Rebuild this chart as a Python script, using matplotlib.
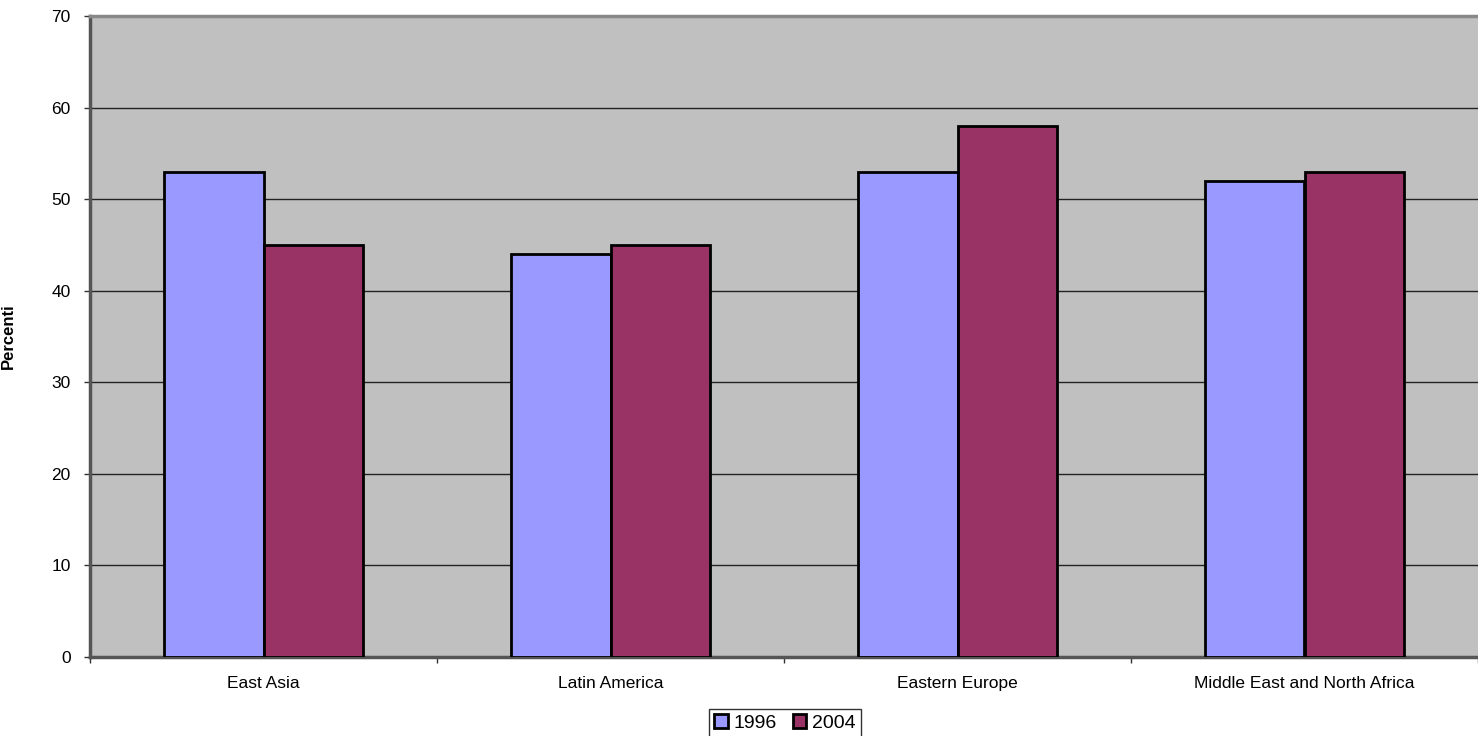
'''
Grouped bar chart: share by region, 1996 vs 2004
'''

import numpy as np
import matplotlib.pyplot as plt

#########################################

regions = ["East Asia", "Latin America", "Eastern Europe", "Middle East and North Africa"]
years = ["1996", "2004"]
vals1996 = [53, 44, 53, 52]
vals2004 = [45, 45, 58, 53]
yticks = [0, 10, 20, 30, 40, 50, 60, 70]

#########################################

plt.rcParams['font.family'] = ['Liberation Sans', 'DejaVu Sans']

W, H = 1478, 736
fig = plt.figure(figsize=(W/100, H/100), dpi=100)
fig.patch.set_facecolor('white')

# plot area in pixels
left, right, top, bot = 90, 1478, 16, 657
ax = fig.add_axes([left/W, 1-bot/H, (right-left)/W, (bot-top)/H])
ax.set_facecolor('#c0c0c0')

x = np.arange(len(regions))
bw = 100/349.
ax.bar(x-bw/2, vals1996, bw, color='#9999ff', edgecolor='black', linewidth=2, label=years[0], zorder=3)
ax.bar(x+bw/2, vals2004, bw, color='#993366', edgecolor='black', linewidth=2, label=years[1], zorder=3)

ax.set_ylim(0, 70)
ax.set_xlim(-0.5, 3.5-8/349.)
ax.set_yticks(yticks)
ax.yaxis.grid(True, color='#222222', linewidth=1)
ax.set_axisbelow(True)

# category ticks sit between groups
ax.set_xticks(np.arange(len(regions)+1)-0.5, minor=False)
ax.set_xticklabels([])
ax.set_xticks(x, minor=True)
ax.set_xticklabels(regions, minor=True)
ax.tick_params(axis='x', which='minor', length=0, pad=14, labelsize=12.5)
ax.tick_params(axis='x', which='major', length=4, width=1, color='#333333', direction='out')
ax.tick_params(axis='y', length=4, width=1, color='#333333', direction='out', labelsize=12.5, pad=10)

for s in ['left', 'bottom']:
  ax.spines[s].set_color('#555555')
  ax.spines[s].set_linewidth(2.5)
ax.spines['top'].set_color('#888888')
ax.spines['top'].set_linewidth(2.5)
ax.spines['right'].set_visible(False)

ax.set_ylabel("Percenti", fontsize=12, fontweight='bold')
ax.yaxis.set_label_coords((16-left)/(right-left), 0.5)

leg = fig.legend(loc='center', bbox_to_anchor=(785/W, 1-723/H), ncol=2, fontsize=14,
                 frameon=True, fancybox=False, edgecolor='black', handlelength=0.7,
                 handleheight=0.7, handletextpad=0.3, columnspacing=0.8,
                 borderpad=0.25, borderaxespad=0)
leg.get_frame().set_linewidth(1)

plt.savefig('out.png', dpi=100)
plt.close()
